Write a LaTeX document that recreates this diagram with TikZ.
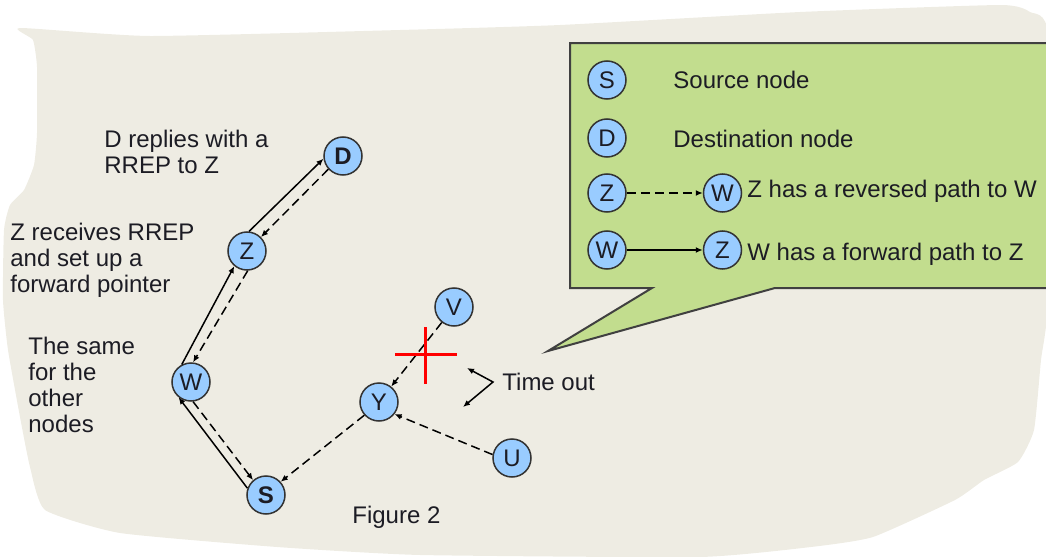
\documentclass[tikz,border=0pt]{standalone}
\usepackage{fontspec}
\setmainfont{Liberation Sans}
\usetikzlibrary{arrows.meta,positioning}
\definecolor{paper}{HTML}{EEECE3}
\definecolor{callout}{HTML}{C2DD8E}
\definecolor{nodeblue}{HTML}{99CCFF}
\definecolor{ink}{HTML}{1C1C24}

\begin{document}
\begin{tikzpicture}[x=0.5pt,y=-0.5pt,
  every node/.style={font=\fontsize{12}{13}\selectfont,text=ink},
  host/.style={circle,draw=black!80,fill=nodeblue,line width=0.75pt,minimum size=19pt,inner sep=0pt},
  note/.style={inner sep=0pt,align=left},
  fwd/.style={-{Latex[length=3.5pt,width=3pt]},line width=0.75pt},
  rev/.style={fwd,dash pattern=on 4.5pt off 2.5pt}]
\useasboundingbox (0,0) rectangle (1046,557);
% torn paper sheet
\fill[paper] plot[smooth cycle,tension=0.3] coordinates {
  (20,28) (150,36) (400,30) (560,25) (800,12) (1000,5) (1030,12) (1048,35)
  (1048,300) (1041,360) (1034,430) (1018,462) (984,480) (955,500) (873,537)
  (811,547) (700,557) (420,555) (277,547) (120,533) (45,510) (30,467) (20,417)
  (8,350) (3,300) (4,230) (10,205) (24,190) (34,165) (37,133) (37,67) (33,40)};
% legend callout
\filldraw[fill=callout,draw=black!75,line width=1pt] (570,43) -- (1052,43) -- (1052,288)
  -- (775,288) -- (548,351) -- (652,288) -- (570,288) -- cycle;

% route nodes
\node[host] (d) at (343,156) {\textbf{D}};
\node[host] (z) at (247,251) {Z};
\node[host] (w) at (191,382) {W};
\node[host] (s) at (266,495) {\textbf{S}};
\node[host] (y) at (379,402) {Y};
\node[host] (v) at (454,307) {V};
\node[host] (u) at (512,458) {U};

% forward (solid) and reversed (dashed) pointers
\draw[fwd] (z.84) -- (d.188);
\draw[rev] (d.222) -- (z.45);
\draw[fwd] (w.118) -- (z.230);
\draw[rev] (z.272) -- (w.84);
\draw[fwd] (s.160) -- (w.231);
\draw[rev] (w.276) -- (s.131);
\draw[rev] (y.222) -- (s.42);
\draw[rev] (v) -- (y);
\draw[rev] (u.170) -- (y.322);

% expired entry
\draw[red,line width=1.5pt] (425,327) -- (425,384) (395,354) -- (457,354);
\node[note,anchor=west] (tout) at (502,382) {Time out};
\coordinate (tk) at (493,382);
\coordinate (t1) at (467,368);
\coordinate (t2) at (463,407);
\draw[{Latex[length=3.5pt,width=3pt]}-{Latex[length=3.5pt,width=3pt]},line width=0.75pt] (t1) -- (tk) -- (t2);

% side notes
\node[note,anchor=north west] (nd) at (104,130) {D replies with a\\RREP to Z};
\node[note,anchor=north west] (nz) at (10,223) {Z receives RREP\\and set up a\\forward pointer};
\node[note,anchor=north west] (nw) at (28,337) {The same\\for the\\other\\nodes};
\node[note,anchor=base west] (fig) at (352,523) {Figure 2};

% legend
\node[host] (ls) at (607,80) {S};
\node[host] (ld) at (607,138) {D};
\node[host] (lz) at (607,193) {Z};
\node[host,right=38pt of lz] (lw2) {W};
\node[host] (lw) at (607,250) {W};
\node[host,right=38pt of lw] (lz2) {Z};
\draw[rev] (lz) -- (lw2);
\draw[fwd] (lw) -- (lz2);
\node[note,anchor=base west] (tls) at (673,88) {Source node};
\node[note,anchor=base west] (tld) at (673,148) {Destination node};
\node[note,anchor=base west] (tlz) at (747,197) {Z has a reversed path to W};
\node[note,anchor=base west] (tlw) at (747,260) {W has a forward path to Z};
\end{tikzpicture}
\end{document}
